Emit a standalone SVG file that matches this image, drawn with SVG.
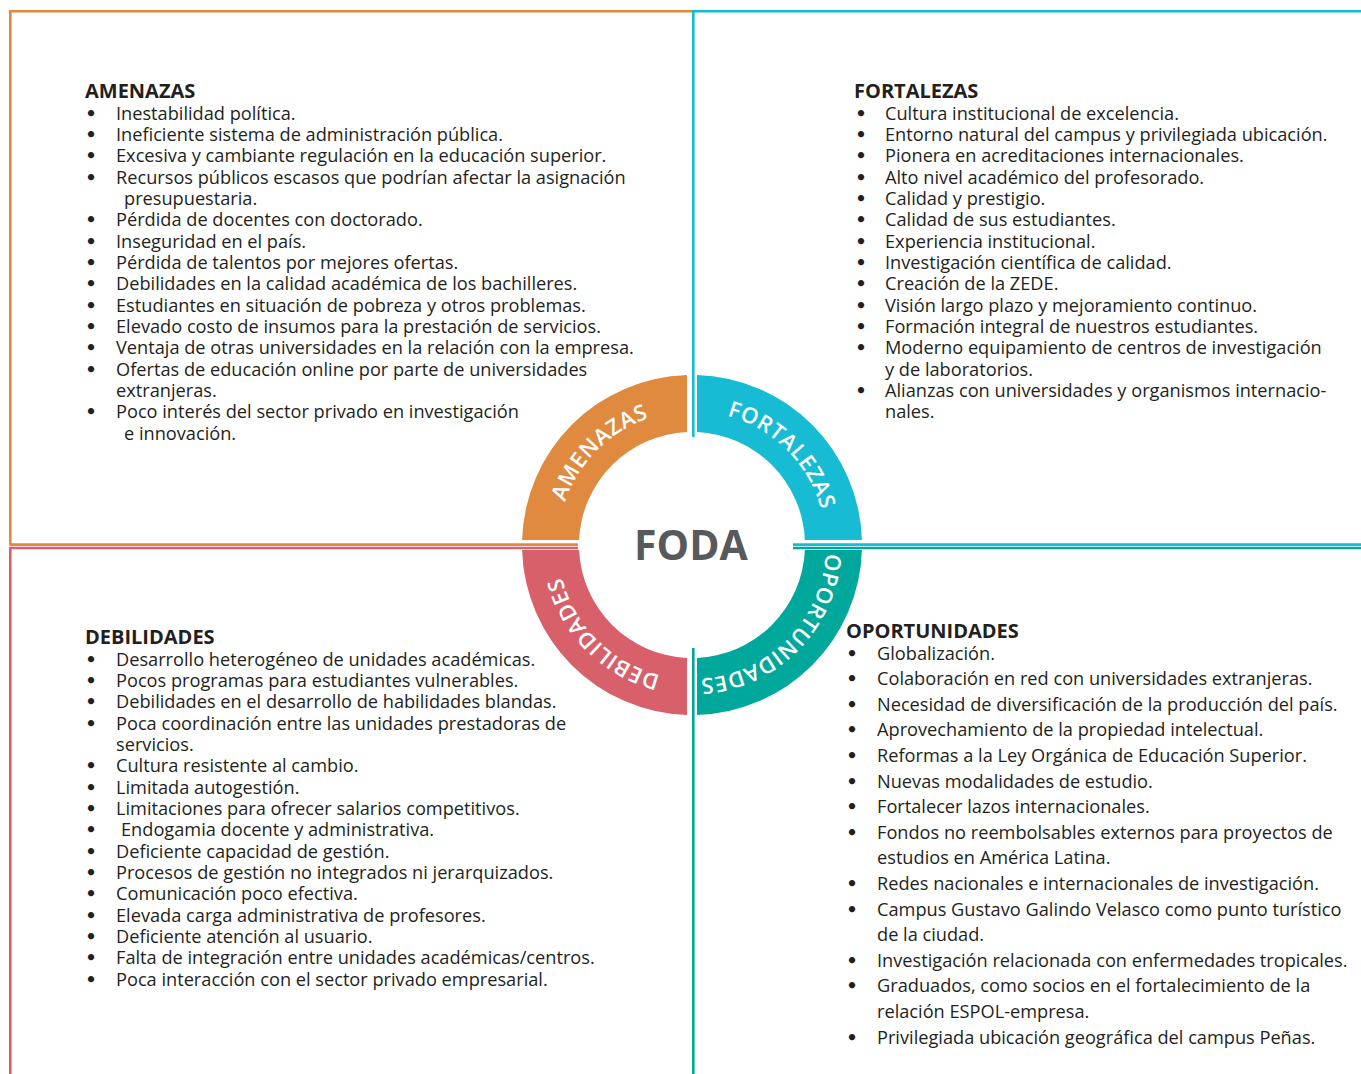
<svg xmlns="http://www.w3.org/2000/svg" width="1361" height="1074" viewBox="0 0 1361 1074">
<style>
.t{font-family:"Open Sans","Liberation Sans",sans-serif;font-size:18.2px;fill:#231f20}
.h{font-family:"Open Sans","Liberation Sans",sans-serif;font-size:20px;font-weight:700;fill:#231f20}
.b{font-family:"DejaVu Sans",sans-serif;font-size:18px;font-weight:700;fill:#231f20;text-anchor:middle}
.lbl{font-family:"Open Sans","Liberation Sans",sans-serif;font-size:22px;font-weight:600;fill:#fff;letter-spacing:0.6px}
.ln{fill:none;stroke-width:2.6}
</style>
<defs>
<path id="pA" d="M558 545 A134 134 0 0 1 692 411"/>
<path id="pF" d="M692 411 A134 134 0 0 1 826 545"/>
<path id="pO" d="M826 545 A134 134 0 0 1 692 679"/>
<path id="pD" d="M692 679 A134 134 0 0 1 558 545"/>
</defs>
<rect width="1361" height="1074" fill="#fff"/>
<g id="frame">
<polyline class="ln" stroke="#df8a3e" points="10.3,545.5 10.3,11.3 692,11.3"/>
<line class="ln" stroke="#df8a3e" x1="10.3" y1="544.6" x2="578" y2="544.6"/>
<polyline class="ln" stroke="#17bbd4" points="693.3,437 693.3,11.3 1361,11.3"/>
<line class="ln" stroke="#17bbd4" x1="793" y1="544.6" x2="1361" y2="544.6"/>
<polyline class="ln" stroke="#d8606b" points="10.3,1074 10.3,548 578,548"/>
<line class="ln" stroke="#00a89c" x1="793" y1="548" x2="1361" y2="548"/>
<line class="ln" stroke="#00a89c" x1="693.3" y1="648" x2="693.3" y2="1074"/>
</g>
<g id="ring">
<path fill="#df8a3e" d="M522.07 540 A170 170 0 0 1 687 375.07 L687 432.11 A113 113 0 0 0 579.11 540 Z"/>
<path fill="#17bbd4" d="M697 375.07 A170 170 0 0 1 861.93 540 L804.89 540 A113 113 0 0 0 697 432.11 Z"/>
<path fill="#00a89c" d="M861.93 550 A170 170 0 0 1 697 714.93 L697 657.89 A113 113 0 0 0 804.89 550 Z"/>
<path fill="#d8606b" d="M687 714.93 A170 170 0 0 1 522.07 550 L579.11 550 A113 113 0 0 0 687 657.89 Z"/>
<text class="lbl" text-anchor="middle"><textPath href="#pA" startOffset="50%">AMENAZAS</textPath></text>
<text class="lbl" text-anchor="middle"><textPath href="#pF" startOffset="50%">FORTALEZAS</textPath></text>
<text class="lbl" text-anchor="middle"><textPath href="#pO" startOffset="50%">OPORTUNIDADES</textPath></text>
<text class="lbl" text-anchor="middle"><textPath href="#pD" startOffset="50%">DEBILIDADES</textPath></text>
<text x="691" y="560" text-anchor="middle" font-family="'Open Sans','Liberation Sans',sans-serif" font-size="41" font-weight="700" fill="#58595b">FODA</text>
</g>
<g id="amenazas">
<text class="h" x="85" y="98">AMENAZAS</text>
<text class="b" x="91" y="119.5">•</text><text class="b" x="91" y="140.8">•</text><text class="b" x="91" y="162.2">•</text><text class="b" x="91" y="183.5">•</text><text class="b" x="91" y="226.2">•</text><text class="b" x="91" y="247.5">•</text><text class="b" x="91" y="268.8">•</text><text class="b" x="91" y="290.2">•</text><text class="b" x="91" y="311.5">•</text><text class="b" x="91" y="332.8">•</text><text class="b" x="91" y="354.2">•</text><text class="b" x="91" y="375.5">•</text><text class="b" x="91" y="418.2">•</text>
<text class="t">
<tspan x="116" y="119.5">Inestabilidad política.</tspan>
<tspan x="116" y="140.8">Ineficiente sistema de administración pública.</tspan>
<tspan x="116" y="162.2">Excesiva y cambiante regulación en la educación superior.</tspan>
<tspan x="116" y="183.5">Recursos públicos escasos que podrían afectar la asignación</tspan>
<tspan x="124" y="204.8">presupuestaria.</tspan>
<tspan x="116" y="226.2">Pérdida de docentes con doctorado.</tspan>
<tspan x="116" y="247.5">Inseguridad en el país.</tspan>
<tspan x="116" y="268.8">Pérdida de talentos por mejores ofertas.</tspan>
<tspan x="116" y="290.2">Debilidades en la calidad académica de los bachilleres.</tspan>
<tspan x="116" y="311.5">Estudiantes en situación de pobreza y otros problemas.</tspan>
<tspan x="116" y="332.8">Elevado costo de insumos para la prestación de servicios.</tspan>
<tspan x="116" y="354.2">Ventaja de otras universidades en la relación con la empresa.</tspan>
<tspan x="116" y="375.5">Ofertas de educación online por parte de universidades</tspan>
<tspan x="116" y="396.8">extranjeras.</tspan>
<tspan x="116" y="418.2">Poco interés del sector privado en investigación</tspan>
<tspan x="124" y="439.5">e innovación.</tspan>
</text>
</g>
<g id="fortalezas">
<text class="h" x="854" y="98">FORTALEZAS</text>
<text class="b" x="861" y="119.5">•</text><text class="b" x="861" y="140.8">•</text><text class="b" x="861" y="162.2">•</text><text class="b" x="861" y="183.5">•</text><text class="b" x="861" y="204.8">•</text><text class="b" x="861" y="226.2">•</text><text class="b" x="861" y="247.5">•</text><text class="b" x="861" y="268.8">•</text><text class="b" x="861" y="290.2">•</text><text class="b" x="861" y="311.5">•</text><text class="b" x="861" y="332.8">•</text><text class="b" x="861" y="354.2">•</text><text class="b" x="861" y="396.8">•</text>
<text class="t">
<tspan x="885" y="119.5">Cultura institucional de excelencia.</tspan>
<tspan x="885" y="140.8">Entorno natural del campus y privilegiada ubicación.</tspan>
<tspan x="885" y="162.2">Pionera en acreditaciones internacionales.</tspan>
<tspan x="885" y="183.5">Alto nivel académico del profesorado.</tspan>
<tspan x="885" y="204.8">Calidad y prestigio.</tspan>
<tspan x="885" y="226.2">Calidad de sus estudiantes.</tspan>
<tspan x="885" y="247.5">Experiencia institucional.</tspan>
<tspan x="885" y="268.8">Investigación científica de calidad.</tspan>
<tspan x="885" y="290.2">Creación de la ZEDE.</tspan>
<tspan x="885" y="311.5">Visión largo plazo y mejoramiento continuo.</tspan>
<tspan x="885" y="332.8">Formación integral de nuestros estudiantes.</tspan>
<tspan x="885" y="354.2">Moderno equipamiento de centros de investigación</tspan>
<tspan x="885" y="375.5">y de laboratorios.</tspan>
<tspan x="885" y="396.8">Alianzas con universidades y organismos internacio-</tspan>
<tspan x="885" y="418.2">nales.</tspan>
</text>
</g>
<g id="debilidades">
<text class="h" x="85" y="644">DEBILIDADES</text>
<text class="b" x="91" y="665.5">•</text><text class="b" x="91" y="686.8">•</text><text class="b" x="91" y="708.2">•</text><text class="b" x="91" y="729.5">•</text><text class="b" x="91" y="772.2">•</text><text class="b" x="91" y="793.5">•</text><text class="b" x="91" y="814.8">•</text><text class="b" x="91" y="836.2">•</text><text class="b" x="91" y="857.5">•</text><text class="b" x="91" y="878.8">•</text><text class="b" x="91" y="900.2">•</text><text class="b" x="91" y="921.5">•</text><text class="b" x="91" y="942.8">•</text><text class="b" x="91" y="964.2">•</text><text class="b" x="91" y="985.5">•</text>
<text class="t">
<tspan x="116" y="665.5">Desarrollo heterogéneo de unidades académicas.</tspan>
<tspan x="116" y="686.8">Pocos programas para estudiantes vulnerables.</tspan>
<tspan x="116" y="708.2">Debilidades en el desarrollo de habilidades blandas.</tspan>
<tspan x="116" y="729.5">Poca coordinación entre las unidades prestadoras de</tspan>
<tspan x="116" y="750.8">servicios.</tspan>
<tspan x="116" y="772.2">Cultura resistente al cambio.</tspan>
<tspan x="116" y="793.5">Limitada autogestión.</tspan>
<tspan x="116" y="814.8">Limitaciones para ofrecer salarios competitivos.</tspan>
<tspan x="121" y="836.2">Endogamia docente y administrativa.</tspan>
<tspan x="116" y="857.5">Deficiente capacidad de gestión.</tspan>
<tspan x="116" y="878.8">Procesos de gestión no integrados ni jerarquizados.</tspan>
<tspan x="116" y="900.2">Comunicación poco efectiva.</tspan>
<tspan x="116" y="921.5">Elevada carga administrativa de profesores.</tspan>
<tspan x="116" y="942.8">Deficiente atención al usuario.</tspan>
<tspan x="116" y="964.2">Falta de integración entre unidades académicas/centros.</tspan>
<tspan x="116" y="985.5">Poca interacción con el sector privado empresarial.</tspan>
</text>
</g>
<g id="oportunidades">
<text class="h" x="846" y="638">OPORTUNIDADES</text>
<text class="b" x="852" y="659.5">•</text><text class="b" x="852" y="685.1">•</text><text class="b" x="852" y="710.7">•</text><text class="b" x="852" y="736.3">•</text><text class="b" x="852" y="761.9">•</text><text class="b" x="852" y="787.5">•</text><text class="b" x="852" y="813.1">•</text><text class="b" x="852" y="838.7">•</text><text class="b" x="852" y="889.9">•</text><text class="b" x="852" y="915.5">•</text><text class="b" x="852" y="966.7">•</text><text class="b" x="852" y="992.3">•</text><text class="b" x="852" y="1043.5">•</text>
<text class="t">
<tspan x="877" y="659.5">Globalización.</tspan>
<tspan x="877" y="685.1">Colaboración en red con universidades extranjeras.</tspan>
<tspan x="877" y="710.7">Necesidad de diversificación de la producción del país.</tspan>
<tspan x="877" y="736.3">Aprovechamiento de la propiedad intelectual.</tspan>
<tspan x="877" y="761.9">Reformas a la Ley Orgánica de Educación Superior.</tspan>
<tspan x="877" y="787.5">Nuevas modalidades de estudio.</tspan>
<tspan x="877" y="813.1">Fortalecer lazos internacionales.</tspan>
<tspan x="877" y="838.7">Fondos no reembolsables externos para proyectos de</tspan>
<tspan x="877" y="864.3">estudios en América Latina.</tspan>
<tspan x="877" y="889.9">Redes nacionales e internacionales de investigación.</tspan>
<tspan x="877" y="915.5">Campus Gustavo Galindo Velasco como punto turístico</tspan>
<tspan x="877" y="941.1">de la ciudad.</tspan>
<tspan x="877" y="966.7">Investigación relacionada con enfermedades tropicales.</tspan>
<tspan x="877" y="992.3">Graduados, como socios en el fortalecimiento de la</tspan>
<tspan x="877" y="1017.9">relación ESPOL-empresa.</tspan>
<tspan x="877" y="1043.5">Privilegiada ubicación geográfica del campus Peñas.</tspan>
</text>
</g>
</svg>
